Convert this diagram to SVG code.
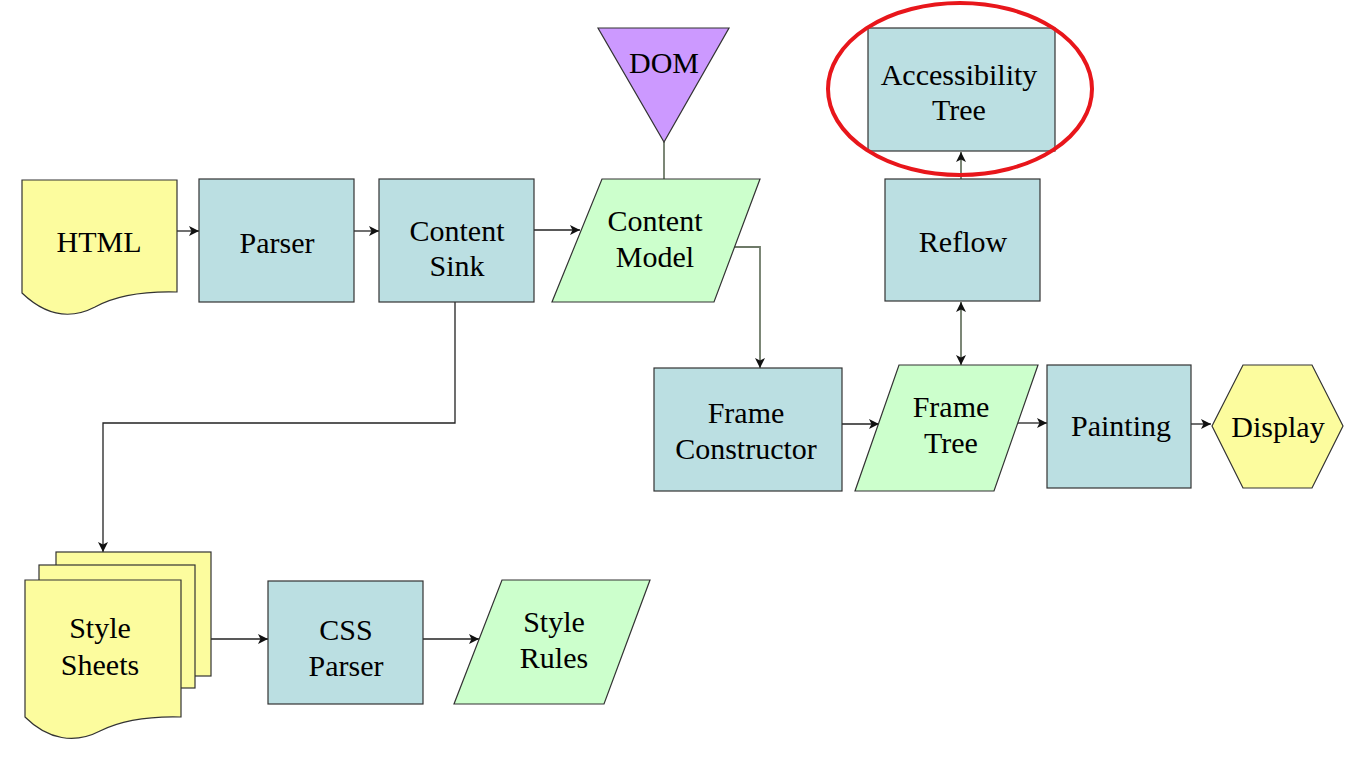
<svg xmlns="http://www.w3.org/2000/svg" width="1366" height="768" viewBox="0 0 1366 768">
<defs>
<style>
.blue{fill:#bbdfe2;stroke:#333;stroke-width:1.2}
.yellow{fill:#fcfc9e;stroke:#333;stroke-width:1.2}
.green{fill:#ccffcc;stroke:#333;stroke-width:1.2}
.purple{fill:#cc99ff;stroke:#333;stroke-width:1.2}
.t{font-family:"Liberation Serif","Times New Roman",serif;font-size:30px;fill:#000;text-anchor:middle}
.c{fill:none;stroke:#222;stroke-width:1.3}
.g{fill:none;stroke:#6e7a68;stroke-width:1.8}
</style>
<marker id="ah" viewBox="0 0 10 10" refX="10" refY="5" markerWidth="11" markerHeight="10" markerUnits="userSpaceOnUse" orient="auto-start-reverse">
<path d="M0,0 L10,5 L0,10 L2.5,5 Z" fill="#111"/>
</marker>
</defs>
<rect width="1366" height="768" fill="#fff"/>

<g id="connectors">
<line class="c" x1="177" y1="231" x2="199" y2="231" marker-end="url(#ah)"/>
<line class="c" x1="354" y1="231" x2="379" y2="231" marker-end="url(#ah)"/>
<line class="c" x1="534" y1="230" x2="580" y2="230" marker-end="url(#ah)"/>
<line class="g" x1="664" y1="142" x2="664" y2="179"/>
<polyline class="g" points="732,247 760,247 760,368" marker-end="url(#ah)"/>
<line class="c" x1="842" y1="424" x2="879" y2="424" marker-end="url(#ah)"/>
<line class="c" x1="1017" y1="423" x2="1047" y2="423" marker-end="url(#ah)"/>
<line class="c" x1="1191" y1="424" x2="1211" y2="424" marker-end="url(#ah)"/>
<line class="g" x1="961" y1="302" x2="961" y2="365" marker-start="url(#ah)" marker-end="url(#ah)"/>
<line class="g" x1="961" y1="179" x2="961" y2="152" marker-end="url(#ah)"/>
<polyline class="c" points="455,302 455,423 103,423 103,552" marker-end="url(#ah)"/>
<line class="c" x1="211" y1="639" x2="268" y2="639" marker-end="url(#ah)"/>
<line class="c" x1="423" y1="639" x2="479" y2="639" marker-end="url(#ah)"/>
</g>

<g id="html">
<path class="yellow" d="M22,180 H177 V292 C140,291 115,296 95,307 C70,320 45,315 22,293 Z"/>
<text class="t" x="99" y="252">HTML</text>
</g>

<g id="parser">
<rect class="blue" x="199" y="179" width="155" height="123"/>
<text class="t" x="277" y="253">Parser</text>
</g>

<g id="content-sink">
<rect class="blue" x="379" y="179" width="155" height="123"/>
<text class="t" x="457" y="241">Content</text>
<text class="t" x="457" y="276">Sink</text>
</g>

<g id="dom">
<polygon class="purple" points="598,28 729,28 664,142"/>
<text class="t" x="664" y="73">DOM</text>
</g>

<g id="content-model">
<polygon class="green" points="602,179 760,179 714,302 552,302"/>
<text class="t" x="655" y="231">Content</text>
<text class="t" x="655" y="267">Model</text>
</g>

<g id="accessibility-tree">
<rect class="blue" x="868" y="28" width="187" height="123"/>
<text class="t" x="959" y="85">Accessibility</text>
<text class="t" x="959" y="120">Tree</text>
</g>

<g id="highlight">
<ellipse cx="960" cy="89" rx="132" ry="86" fill="none" stroke="#e8161b" stroke-width="4"/>
</g>

<g id="reflow">
<rect class="blue" x="885" y="179" width="155" height="122"/>
<text class="t" x="963" y="252">Reflow</text>
</g>

<g id="frame-constructor">
<rect class="blue" x="654" y="368" width="188" height="123"/>
<text class="t" x="746" y="423">Frame</text>
<text class="t" x="746" y="459">Constructor</text>
</g>

<g id="frame-tree">
<polygon class="green" points="899,365 1038,365 994,491 855,491"/>
<text class="t" x="951" y="417">Frame</text>
<text class="t" x="951" y="453">Tree</text>
</g>

<g id="painting">
<rect class="blue" x="1047" y="365" width="144" height="123"/>
<text class="t" x="1121" y="436">Painting</text>
</g>

<g id="display">
<polygon class="yellow" points="1212,426 1243,365 1312,365 1343,426 1312,488 1243,488"/>
<text class="t" x="1278" y="437">Display</text>
</g>

<g id="style-sheets">
<rect class="yellow" x="56" y="552" width="155" height="124"/>
<rect class="yellow" x="39" y="565" width="156" height="123"/>
<path class="yellow" d="M25,580 H181 V717 C145,716 120,721 100,731 C75,744 48,740 25,717 Z"/>
<text class="t" x="100" y="638">Style</text>
<text class="t" x="100" y="675">Sheets</text>
</g>

<g id="css-parser">
<rect class="blue" x="268" y="581" width="155" height="123"/>
<text class="t" x="346" y="640">CSS</text>
<text class="t" x="346" y="676">Parser</text>
</g>

<g id="style-rules">
<polygon class="green" points="502,580 650,580 604,704 454,704"/>
<text class="t" x="554" y="632">Style</text>
<text class="t" x="554" y="668">Rules</text>
</g>
</svg>
